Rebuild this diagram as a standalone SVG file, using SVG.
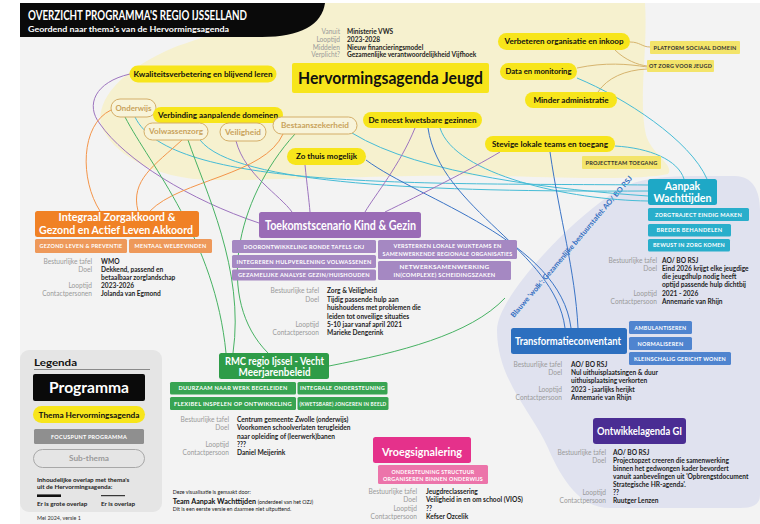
<svg xmlns="http://www.w3.org/2000/svg" width="760" height="524" viewBox="0 0 760 524">
<style>
text{font-family:Lato,'Liberation Sans',Arial,sans-serif}
.lab{fill:#9a9a9a;font-size:6.6px;text-anchor:end}
.val{fill:#1e1e1e;font-size:6.6px;font-weight:700}
.sb{fill:#fff;font-size:5.3px;font-weight:700;letter-spacing:.25px;text-anchor:middle}
.pt{fill:#111;font-size:8px;font-weight:700;text-anchor:middle}
.st{fill:#c9a35c;font-size:8px;font-weight:700;text-anchor:middle}
.pill{fill:#f7e51b}
.subp{fill:#f8f4da;stroke:#d4ae68;stroke-width:1}
.fp{fill:#f3e46a}
.fpt{fill:#333;font-size:5.3px;font-weight:700;text-anchor:middle;letter-spacing:.2px}
.mt{fill:#fff;font-weight:700;text-anchor:middle}
.c{fill:none;stroke-width:1}
.ctan{stroke:#d6b46e}
.ccy{stroke:#46bcd6}
.cbl{stroke:#3a74c6}
.cpu{stroke:#9d74bf}
.cor{stroke:#f3954a}
.cgr{stroke:#47b263}
</style>
<rect x="0" y="0" width="760" height="524" fill="#ffffff"/>
<rect x="20" y="3" width="740" height="521" fill="#f3f3f3"/>
<path id="cream" d="M175,47 C200,38 230,30 255,10 L255,3 L645,3 C648,50 638,100 646,135 C652,155 675,165 668,174 C640,180 580,178 500,176 C420,174 300,180 215,180 C150,180 110,150 101,125 C96,100 120,70 175,47 Z" fill="#f6f1cf"/>
<path id="lavender" d="M497,330 C497,300 560,230 610,195 C630,181 650,176 700,176 L735,176 C752,176 760,190 760,210 L760,495 C760,505 752,508 740,508 L610,508 C580,508 562,480 548,448 C532,412 497,380 497,330 Z" fill="#e0e2ef"/>
<text x="514" y="318" transform="rotate(-49.6 514 318)" fill="#2f6cc0" font-size="7.2" font-weight="700" textLength="183" lengthAdjust="spacingAndGlyphs">Blauwe 'wolk': Gezamenlijke bestuurstafel: AO/ BO RSJ</text>

<g id="header">
<path d="M20,3 H325 C322,25 300,37 262,37 H20 Z" fill="#0a0a0a"/>
<text x="28" y="20" fill="#fff" font-size="12.5" font-weight="700" textLength="219" lengthAdjust="spacingAndGlyphs">OVERZICHT PROGRAMMA'S REGIO IJSSELLAND</text>
<text x="28" y="31.5" fill="#fff" font-size="7.4" font-weight="700" textLength="201" lengthAdjust="spacingAndGlyphs">Geordend naar thema's van de Hervormingsagenda</text>
</g>

<g id="connectors">
<path class="c ctan" d="M630,42 C640,42 642,47 650,47"/>
<path class="c ctan" d="M615,50 C625,60 638,65 647,66"/>
<path class="c ctan" d="M577,68 C605,62 628,64 647,67"/>
<path class="c ctan" d="M598,92 C607,78 625,70 647,69"/>
<path class="c ccy" d="M577,78 C625,98 690,140 707,179"/>
<path class="c ccy" d="M615,146 C650,148 678,160 684,179"/>
<path class="c ccy" d="M135,117 C170,190 420,183 648,185"/>
<path class="c ccy" d="M200,140 C235,185 430,192 648,191"/>
<path class="c ccy" d="M352,133 C420,175 560,190 648,196"/>
<path class="c ccy" d="M440,128 C455,175 570,200 648,201"/>
<path class="c cbl" d="M428,128 C440,210 555,250 565,328"/>
<path class="c cbl" d="M366,160 C420,200 560,240 571,328"/>
<path class="c cbl" d="M550,152 C560,220 575,270 578,328"/>
<path class="c cpu" d="M130,74 C95,82 85,105 100,124 C125,160 190,200 259,223"/>
<path class="c cpu" d="M236,141 C245,175 280,195 292,212"/>
<path class="c cpu" d="M305,165 C307,185 309,200 310,212"/>
<path class="c cpu" d="M415,128 C400,165 375,195 365,212"/>
<path class="c cpu" stroke-width="3" d="M385,212 C420,195 470,170 500,152"/>
<path class="c cor" d="M111,110 C80,125 80,180 100,211"/>
<path class="c cor" d="M182,140 C155,165 130,180 138,211"/>
<path class="c cor" d="M283,134 C265,175 180,180 150,211"/>
<path class="c cgr" d="M125,117 C150,165 215,240 226,353"/>
<path class="c cgr" d="M188,140 C205,190 245,270 233,353"/>
<path class="c cgr" d="M295,134 C235,200 215,300 268,353"/>
<path class="c cgr" d="M329,366 C400,352 470,335 505,298"/>
</g>

<g id="info">
<text class="lab" x="340" y="34">Vanuit</text><text class="val" x="347" y="34">Ministerie VWS</text>
<text class="lab" x="340" y="41.8">Looptijd</text><text class="val" x="347" y="41.8">2023-2028</text>
<text class="lab" x="340" y="49.6">Middelen</text><text class="val" x="347" y="49.6">Nieuw financieringsmodel</text>
<text class="lab" x="340" y="57.4">Verplicht?</text><text class="val" x="347" y="57.4">Gezamenlijke verantwoordelijkheid Vijfhoek</text>
</g>
<g id="hervormingsagenda">
<rect x="292" y="63" width="197" height="30" rx="2" fill="#f7e51b"/>
<text x="390.5" y="84" fill="#111" font-size="17" font-weight="700" text-anchor="middle" textLength="185" lengthAdjust="spacingAndGlyphs">Hervormingsagenda Jeugd</text>
</g>

<g id="kwaliteit"><rect class="pill" x="129.5" y="65.5" width="147" height="17" rx="8.5"/><text class="pt" x="203" y="76.8" textLength="139" lengthAdjust="spacingAndGlyphs">Kwaliteitsverbetering en blijvend leren</text></g>
<g id="onderwijs"><rect class="subp" x="111" y="99" width="45" height="18" rx="9"/><text class="st" x="133.5" y="110.8" textLength="36" lengthAdjust="spacingAndGlyphs">Onderwijs</text></g>
<g id="verbinding"><rect class="pill" x="153" y="107" width="130" height="16" rx="8"/><text class="pt" x="218" y="117.8" textLength="120" lengthAdjust="spacingAndGlyphs">Verbinding aanpalende domeinen</text></g>
<g id="volwassenzorg"><rect class="subp" x="144" y="123" width="64" height="17" rx="8.5"/><text class="st" x="176" y="134.3" textLength="54" lengthAdjust="spacingAndGlyphs">Volwassenzorg</text></g>
<g id="veiligheid"><rect class="subp" x="220" y="123" width="46" height="18" rx="9"/><text class="st" x="243" y="134.8" textLength="36" lengthAdjust="spacingAndGlyphs">Veiligheid</text></g>
<g id="bestaanszekerheid"><rect class="subp" x="273" y="117" width="84" height="17" rx="8.5"/><text class="st" x="315" y="128.3" textLength="68" lengthAdjust="spacingAndGlyphs">Bestaanszekerheid</text></g>
<g id="kwetsbaar"><rect class="pill" x="363" y="112" width="119" height="16" rx="8"/><text class="pt" x="422.5" y="122.8" textLength="108" lengthAdjust="spacingAndGlyphs">De meest kwetsbare gezinnen</text></g>
<g id="zothuis"><rect class="pill" x="287" y="148" width="79" height="17" rx="8.5"/><text class="pt" x="326.5" y="159.3" textLength="61" lengthAdjust="spacingAndGlyphs">Zo thuis mogelijk</text></g>
<g id="verbeteren"><rect class="pill" x="498" y="33" width="132" height="17" rx="8.5"/><text class="pt" x="564" y="44.3" textLength="119" lengthAdjust="spacingAndGlyphs">Verbeteren organisatie en inkoop</text></g>
<g id="data"><rect class="pill" x="500" y="63" width="77" height="17" rx="8.5"/><text class="pt" x="538.5" y="74.3" textLength="66" lengthAdjust="spacingAndGlyphs">Data en monitoring</text></g>
<g id="minder"><rect class="pill" x="525" y="92" width="92" height="16" rx="8"/><text class="pt" x="571" y="102.8" textLength="75" lengthAdjust="spacingAndGlyphs">Minder administratie</text></g>
<g id="stevige"><rect class="pill" x="485" y="136" width="130" height="16" rx="8"/><text class="pt" x="550" y="146.8" textLength="116" lengthAdjust="spacingAndGlyphs">Stevige lokale teams en toegang</text></g>

<g id="platform"><rect class="fp" x="650" y="41" width="90" height="13" rx="1"/><text class="fpt" x="695" y="49.5" textLength="83" lengthAdjust="spacingAndGlyphs">PLATFORM SOCIAAL DOMEIN</text></g>
<g id="otzorg"><rect class="fp" x="647" y="60" width="67" height="12" rx="1"/><text class="fpt" x="680.5" y="68" textLength="63" lengthAdjust="spacingAndGlyphs">OT ZORG VOOR JEUGD</text></g>
<g id="projectteam"><rect class="fp" x="582" y="156" width="79" height="13" rx="1"/><text class="fpt" x="621.5" y="164.5" textLength="72" lengthAdjust="spacingAndGlyphs">PROJECTTEAM TOEGANG</text></g>

<g id="izo">
<rect x="35" y="211" width="164" height="26" rx="2.5" fill="#f08125"/>
<text class="mt" x="117" y="220.5" font-size="10.5" textLength="117" lengthAdjust="spacingAndGlyphs">Integraal Zorgakkoord &amp;</text>
<text class="mt" x="116" y="233.5" font-size="10.5" textLength="154" lengthAdjust="spacingAndGlyphs">Gezond en Actief Leven Akkoord</text>
<rect x="35" y="239" width="92" height="14" rx="1.5" fill="#ee995a"/><text class="sb" x="81" y="248" textLength="83" lengthAdjust="spacingAndGlyphs">GEZOND LEVEN &amp; PREVENTIE</text>
<rect x="129" y="239" width="83" height="14" rx="1.5" fill="#ee995a"/><text class="sb" x="170.5" y="248" textLength="72" lengthAdjust="spacingAndGlyphs">MENTAAL WELBEVINDEN</text>
<text class="lab" x="92" y="263.5">Bestuurlijke tafel</text><text class="val" x="101" y="263.5">WMO</text>
<text class="lab" x="92" y="271.8">Doel</text><text class="val" x="101" y="271.8">Dekkend, passend en</text>
<text class="val" x="101" y="279.8">betaalbaar zorglandschap</text>
<text class="lab" x="92" y="288.2">Looptijd</text><text class="val" x="101" y="288.2">2023-2026</text>
<text class="lab" x="92" y="296.2">Contactpersonen</text><text class="val" x="101" y="296.2">Jolanda van Egmond</text>
</g>

<g id="toekomst">
<rect x="259" y="212" width="162" height="26" rx="2.5" fill="#9a6cb6"/>
<text class="mt" x="340.5" y="229.5" font-size="12.5" textLength="151" lengthAdjust="spacingAndGlyphs">Toekomstscenario Kind &amp; Gezin</text>
<rect x="232" y="240" width="144" height="13" rx="1.5" fill="#a588c2"/><text class="sb" x="304" y="248.5" textLength="121" lengthAdjust="spacingAndGlyphs">DOORONTWIKKELING RONDE TAFELS GKJ</text>
<rect x="232" y="255" width="144" height="13" rx="1.5" fill="#a588c2"/><text class="sb" x="304" y="263.5" textLength="135" lengthAdjust="spacingAndGlyphs">INTEGREREN HULPVERLENING VOLWASSENEN</text>
<rect x="232" y="269.5" width="144" height="11" rx="1.5" fill="#a588c2"/><text class="sb" x="304" y="277" textLength="132" lengthAdjust="spacingAndGlyphs">GEZAMELIJKE ANALYSE GEZIN/HUISHOUDEN</text>
<rect x="378" y="240" width="139" height="19" rx="1.5" fill="#a588c2"/>
<text class="sb" x="447.5" y="248" textLength="108" lengthAdjust="spacingAndGlyphs">VERSTERKEN LOKALE WIJKTEAMS EN</text>
<text class="sb" x="447.5" y="255.5" textLength="130" lengthAdjust="spacingAndGlyphs">SAMENWERKENDE REGIONALE ORGANISATIES</text>
<rect x="378" y="261" width="133" height="19" rx="1.5" fill="#a588c2"/>
<text class="sb" x="444.5" y="269" textLength="90" lengthAdjust="spacingAndGlyphs">NETWERKSAMENWERKING</text>
<text class="sb" x="444.5" y="276.5" textLength="102" lengthAdjust="spacingAndGlyphs">IN(COMPLEXE) SCHEIDINGSZAKEN</text>
<text class="lab" x="319" y="293.2">Bestuurlijke tafel</text><text class="val" x="327" y="293.2">Zorg &amp; Veiligheid</text>
<text class="lab" x="319" y="301.8">Doel</text><text class="val" x="327" y="301.8">Tijdig passende hulp aan</text>
<text class="val" x="327" y="310.2">huishoudens met problemen die</text>
<text class="val" x="327" y="318.5">leiden tot onveilige situaties</text>
<text class="lab" x="319" y="326.5">Looptijd</text><text class="val" x="327" y="326.5">5-10 jaar vanaf april 2021</text>
<text class="lab" x="319" y="334.5">Contactpersoon</text><text class="val" x="327" y="334.5">Marieke Dengerink</text>
</g>

<g id="aanpak">
<rect x="648" y="179" width="69" height="26" rx="2.5" fill="#1ea8c6"/>
<text class="mt" x="682.5" y="190.3" font-size="10.5">Aanpak</text>
<text class="mt" x="682.5" y="201.8" font-size="10.5" textLength="58" lengthAdjust="spacingAndGlyphs">Wachttijden</text>
<rect x="648" y="208" width="101" height="13" rx="1.5" fill="#29aecb"/><text class="sb" x="698.5" y="216.5" textLength="87" lengthAdjust="spacingAndGlyphs">ZORGTRAJECT EINDIG MAKEN</text>
<rect x="648" y="224" width="83" height="12.5" rx="1.5" fill="#29aecb"/><text class="sb" x="689.5" y="232.2" textLength="66" lengthAdjust="spacingAndGlyphs">BREDER BEHANDELEN</text>
<rect x="648" y="239" width="82" height="12.5" rx="1.5" fill="#29aecb"/><text class="sb" x="689" y="247.2" textLength="72" lengthAdjust="spacingAndGlyphs">BEWUST IN ZORG KOMEN</text>
<text class="lab" x="657" y="262.5">Bestuurlijke tafel</text><text class="val" x="662" y="262.5">AO/ BO RSJ</text>
<text class="lab" x="657" y="270.8">Doel</text><text class="val" x="662" y="270.8">Eind 2026 krijgt elke jeugdige</text>
<text class="val" x="662" y="279.2">die jeugdhulp nodig heeft</text>
<text class="val" x="662" y="286.8">optijd passende hulp dichtbij</text>
<text class="lab" x="657" y="295.8">Looptijd</text><text class="val" x="662" y="295.8">2021 - 2026</text>
<text class="lab" x="657" y="304.2">Contactpersoon</text><text class="val" x="662" y="304.2">Annemarie van Rhijn</text>
</g>

<g id="transformatie">
<rect x="511" y="328" width="116" height="26" rx="2.5" fill="#2c6fbf"/>
<text class="mt" x="568" y="345" font-size="11" textLength="106" lengthAdjust="spacingAndGlyphs">Transformatieconventant</text>
<rect x="629" y="321" width="63" height="13" rx="1.5" fill="#4f84cf"/><text class="sb" x="660.5" y="329.5" textLength="52" lengthAdjust="spacingAndGlyphs">AMBULANTISEREN</text>
<rect x="629" y="337" width="63" height="13" rx="1.5" fill="#4f84cf"/><text class="sb" x="660.5" y="345.5" textLength="46" lengthAdjust="spacingAndGlyphs">NORMALISEREN</text>
<rect x="629" y="352" width="102" height="13" rx="1.5" fill="#4f84cf"/><text class="sb" x="680" y="360.5" textLength="92" lengthAdjust="spacingAndGlyphs">KLEINSCHALIG GERICHT WONEN</text>
<text class="lab" x="562" y="366.5">Bestuurlijke tafel</text><text class="val" x="571" y="366.5">AO/ BO RSJ</text>
<text class="lab" x="562" y="374.8">Doel</text><text class="val" x="571" y="374.8">Nul uithuisplaatsingen &amp; duur</text>
<text class="val" x="571" y="383.2">uithuisplaatsing verkorten</text>
<text class="lab" x="562" y="391.8">Looptijd</text><text class="val" x="571" y="391.8">2023 - jaarlijks herijkt</text>
<text class="lab" x="562" y="399.8">Contactpersoon</text><text class="val" x="571" y="399.8">Annemarie van Rhijn</text>
</g>

<g id="rmc">
<rect x="219" y="353" width="110" height="26" rx="2.5" fill="#2e9c48"/>
<text class="mt" x="274.5" y="364.5" font-size="10.5" textLength="99" lengthAdjust="spacingAndGlyphs">RMC regio Ijssel - Vecht</text>
<text class="mt" x="274.5" y="375.7" font-size="10.5" textLength="72" lengthAdjust="spacingAndGlyphs">Meerjarenbeleid</text>
<rect x="170" y="382" width="126" height="12.5" rx="1.5" fill="#38a452"/><text class="sb" x="233" y="390.3" textLength="109" lengthAdjust="spacingAndGlyphs">DUURZAAM NAAR WERK BEGELEIDEN</text>
<rect x="297.5" y="382" width="90" height="12.5" rx="1.5" fill="#38a452"/><text class="sb" x="342.5" y="390.3" textLength="85" lengthAdjust="spacingAndGlyphs">INTEGRALE ONDERSTEUNING</text>
<rect x="170" y="397" width="126" height="13" rx="1.5" fill="#38a452"/><text class="sb" x="233" y="405.5" textLength="118" lengthAdjust="spacingAndGlyphs">FLEXIBEL INSPELEN OP ONTWIKKELING</text>
<rect x="297.5" y="397" width="91" height="13" rx="1.5" fill="#38a452"/><text class="sb" x="343" y="405.5" textLength="87" lengthAdjust="spacingAndGlyphs">(KWETSBARE) JONGEREN IN BEELD</text>
<text class="lab" x="229" y="421.8">Bestuurlijke tafel</text><text class="val" x="237" y="421.8">Centrum gemeente Zwolle (onderwijs)</text>
<text class="lab" x="229" y="430.2">Doel</text><text class="val" x="237" y="430.2">Voorkomen schoolverlaten terugleiden</text>
<text class="val" x="237" y="438.5">naar opleiding of (leerwerk)banen</text>
<text class="lab" x="229" y="446.5">Looptijd</text><text class="val" x="237" y="446.5">???</text>
<text class="lab" x="229" y="454.5">Contactpersoon</text><text class="val" x="237" y="454.5">Daniel Meijerink</text>
</g>

<g id="vroegsignalering">
<rect x="373" y="437" width="98" height="26" rx="2.5" fill="#e5318b"/>
<text class="mt" x="422" y="455.5" font-size="11.5" textLength="80" lengthAdjust="spacingAndGlyphs">Vroegsignalering</text>
<rect x="378" y="465" width="110" height="19" rx="1.5" fill="#ec74aa"/>
<text class="sb" x="433" y="473.5" textLength="83" lengthAdjust="spacingAndGlyphs">ONDERSTEUNING STRUCTUUR</text>
<text class="sb" x="433" y="480.5" textLength="100" lengthAdjust="spacingAndGlyphs">ORGANISEREN BINNEN ONDERWIJS</text>
<text class="lab" x="417" y="494">Bestuurlijke tafel</text><text class="val" x="426" y="494">Jeugdreclassering</text>
<text class="lab" x="417" y="502.3">Doel</text><text class="val" x="426" y="502.3">Veiligheid in en om school (VIOS)</text>
<text class="lab" x="417" y="510.6">Looptijd</text><text class="val" x="426" y="510.6">??</text>
<text class="lab" x="417" y="519">Contactpersoon</text><text class="val" x="426" y="519">Kefser Ozcelik</text>
</g>

<g id="ontwikkelagenda">
<rect x="593" y="418" width="93" height="26" rx="3" fill="#4a2d93"/>
<text class="mt" x="639.5" y="434.5" font-size="11" textLength="85" lengthAdjust="spacingAndGlyphs">Ontwikkelagenda GI</text>
<text class="lab" x="606" y="455">Bestuurlijke tafel</text><text class="val" x="613" y="455">AO/ BO RSJ</text>
<text class="lab" x="606" y="463">Doel</text><text class="val" x="613" y="463">Projectopzet creeren die samenwerking</text>
<text class="val" x="613" y="471.3">binnen het gedwongen kader bevordert</text>
<text class="val" x="613" y="479">vanuit aanbevelingen uit 'Opbrengstdocument</text>
<text class="val" x="613" y="486.6">Strategische HR-agenda'.</text>
<text class="lab" x="606" y="494.6">Looptijd</text><text class="val" x="613" y="494.6">??</text>
<text class="lab" x="606" y="503">Contactpersoon</text><text class="val" x="613" y="503">Ruutger Lenzen</text>
</g>

<g id="legenda">
<rect x="20" y="350" width="142" height="162" rx="9" fill="#e5e5e5"/>
<text x="34" y="365.5" fill="#111" font-size="10" font-weight="700" textLength="43" lengthAdjust="spacingAndGlyphs">Legenda</text>
<line x1="34" y1="369.5" x2="150" y2="369.5" stroke="#8a8a8a" stroke-width="1.2"/>
<rect x="33" y="374" width="112" height="27" rx="2" fill="#0a0a0a"/>
<text class="mt" x="89" y="393" font-size="15" textLength="80" lengthAdjust="spacingAndGlyphs">Programma</text>
<rect class="pill" x="33" y="406" width="112" height="17" rx="8.5"/>
<text class="pt" x="89" y="417.8" textLength="101" lengthAdjust="spacingAndGlyphs">Thema Hervormingsagenda</text>
<rect x="34" y="429" width="110" height="15" rx="1.5" fill="#8f8f8f"/>
<text class="sb" x="89" y="438.5" fill="#e6e6e6" textLength="76" lengthAdjust="spacingAndGlyphs">FOCUSPUNT PROGRAMMA</text>
<rect x="33.5" y="449.5" width="111" height="18" rx="9" fill="none" stroke="#a8a8a8" stroke-width="1"/>
<text x="89" y="461.3" fill="#9a9a9a" font-size="8" font-weight="700" text-anchor="middle" textLength="40" lengthAdjust="spacingAndGlyphs">Sub-thema</text>
<text x="37" y="481.5" fill="#222" font-size="6.3" font-weight="700">Inhoudelijke overlap met thema's</text>
<text x="37" y="489" fill="#222" font-size="6.3" font-weight="700">uit de Hervormingsagenda:</text>
<line x1="37" y1="495.7" x2="61" y2="495.7" stroke="#111" stroke-width="2.6"/>
<line x1="101" y1="495.7" x2="125" y2="495.7" stroke="#111" stroke-width="1"/>
<text x="37" y="505.5" fill="#222" font-size="6.3" font-weight="700">Er is grote overlap</text>
<text x="101" y="505.5" fill="#222" font-size="6.3" font-weight="700">Er is overlap</text>
</g>
<text x="37" y="520.3" fill="#333" font-size="5.4">Mei 2024, versie 1</text>

<g id="credits">
<text x="172.7" y="494.2" fill="#222" font-size="5.3">Deze visualisatie is gemaakt door:</text>
<text x="172.7" y="503.6" fill="#111" font-size="7.2" font-weight="700">Team Aanpak Wachttijden <tspan font-size="5.3" font-weight="400">(onderdeel van het OZJ)</tspan></text>
<text x="172.7" y="511" fill="#222" font-size="5.3">Dit is een eerste versie en daarmee niet uitputtend.</text>
</g>
</svg>
